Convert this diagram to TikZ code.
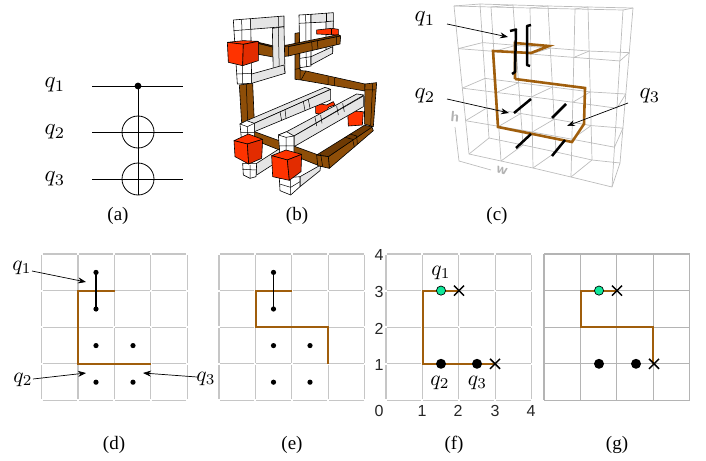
\documentclass[tikz,border=0pt]{standalone}
\usepackage{fontspec}
\setmainfont{Liberation Serif}
\newfontfamily\digitfont{Liberation Sans}
\usetikzlibrary{arrows.meta,calc}
\definecolor{pathbrown}{HTML}{A05E0C}
\definecolor{gridgray}{HTML}{C6C6C6}
\definecolor{gridgraydk}{HTML}{B4B4B4}
\definecolor{wiregray}{HTML}{BDBDBD}
\definecolor{qgreen}{HTML}{10E89A}
\definecolor{barbrown}{HTML}{8E4E08}
\definecolor{bartop}{HTML}{6E3A04}
\definecolor{redl}{HTML}{FF3300}
\definecolor{redr}{HTML}{E22C00}
\tikzset{
  qlab/.style={scale=2.3,inner sep=0pt},
  qsmall/.style={scale=2.15,inner sep=0pt},
  caption/.style={font=\fontsize{19}{21}\selectfont,inner sep=0pt},
  digit/.style={font=\digitfont\fontsize{16}{18}\selectfont,inner sep=0pt,text=black!85},
  axlab/.style={font=\sffamily\bfseries\fontsize{15}{17}\selectfont,inner sep=0pt,text=black!30},
  arr/.style={-{Stealth[length=8pt,width=6pt]},line width=.7pt},
  gridl/.style={draw=gridgray,line width=1.2pt},
  wire/.style={draw=wiregray,line width=.7pt},
  route/.style={draw=pathbrown,line width=1.9pt,line join=miter},
  route3d/.style={draw=pathbrown,line width=2.6pt,line join=miter},
  stub/.style={draw=black,line width=2.5pt},
  wf/.style={fill=white,draw=black,line width=.6pt,line join=round},
  lg/.style={fill=black!10,draw=black,line width=.6pt,line join=round},
  seg/.style={draw=black,line width=.5pt},
  bf/.style={fill=barbrown,draw=black,line width=.6pt,line join=round},
  bt/.style={fill=bartop,draw=black,line width=.6pt,line join=round},
  rl/.style={fill=redl,draw=black,line width=.6pt,line join=round},
  rr/.style={fill=redr,draw=black,line width=.6pt,line join=round},
}
\newcommand{\gapgrid}[1]{%
  \foreach \a in {0,1,2,3} \foreach \b in {0,1,2,3,4} {
    \draw[gridl] ({#1+\a*36.4+1},{254+\b*36.6}) -- ({#1+\a*36.4+35.4},{254+\b*36.6});
    \draw[gridl] ({#1+\b*36.4},{254+\a*36.6+1}) -- ({#1+\b*36.4},{254+\a*36.6+35.6});
  }}
\newcommand{\xmark}[2]{%
  \draw[line width=1.5pt] (#1-5,#2-5) -- (#1+5,#2+5);
  \draw[line width=1.5pt] (#1-5,#2+5) -- (#1+5,#2-5);}
\begin{document}
\begin{tikzpicture}[x=1pt,y=-1pt]
\useasboundingbox (0,0) rectangle (706,460);

% ---------- (a)
\node[qlab] (qa1) at (55,85) {$q_1$};
\node[qlab] (qa2) at (55,132) {$q_2$};
\node[qlab] (qa3) at (55,179) {$q_3$};
\coordinate (wa1l) at (92,86); \coordinate (wa1r) at (183,86);
\coordinate (wa2l) at (92,132); \coordinate (wa2r) at (183,132);
\coordinate (wa3l) at (92,179); \coordinate (wa3r) at (183,179);
\coordinate (ctrl) at (138,86); \coordinate (tgtend) at (138,195);
\draw[line width=.8pt] (wa1l)--(wa1r) (wa2l)--(wa2r) (wa3l)--(wa3r) (ctrl)--(tgtend);
\draw[line width=.8pt] (138,132) circle (16pt) (138,179) circle (16pt);
\fill (ctrl) circle (3.4pt);
\node[caption] (capa) at (118,216) {(a)};

% ---------- (b)
\begin{scope}[shift={(200,0)},x=1/3*1pt,y=-1/3*1pt]
 % back right loop
 \draw[wf] (297,45)--(333,43)--(333,198)--(300,203)--cycle;
 \draw[seg] (317,44)--(319,201) (297,70)--(333,68) (299,150)--(333,146) (300,175)--(333,170);
 \draw[lg] (333,43)--(400,38)--(400,65)--(333,68)--cycle;
 \draw[lg] (378,65)--(400,63)--(398,160)--(378,165)--cycle;
 \draw[lg] (333,170)--(398,140)--(398,160)--(333,195)--cycle;
 \draw[seg] (378,40)--(378,65);
 \draw[rl] (350,90)--(395,85)--(415,88)--(415,105)--(350,102)--cycle;
 \draw[seg] (393,86)--(393,105);
 % long back brown bar and stub
 \draw[bf] (285,100)--(298,98)--(298,205)--(303,212)--(318,213)--(495,252)--(495,273)--(303,240)--(285,238)--cycle;
 \draw[seg] (300,205)--(300,240) (285,208)--(300,205) (318,213)--(303,240) (384,230)--(384,254) (403,234)--(403,258);
 % top brown bar
 \draw[bf] (175,130)--(222,142)--(225,172)--(175,163)--cycle;
 \draw[bt] (175,127)--(222,138)--(262,135)--(415,104)--(422,108)--(265,140)--(222,142)--(175,130)--cycle;
 \draw[bf] (222,142)--(265,138)--(265,168)--(225,172)--cycle;
 \draw[bf] (265,140)--(422,108)--(420,132)--(265,168)--cycle;
 \draw[seg] (248,139)--(248,170) (335,126)--(337,153) (352,122)--(354,149) (410,110)--(410,134);
 % left vertical brown
 \draw[bf] (118,255)--(158,250)--(163,368)--(125,370)--cycle;
 \draw[seg] (139,253)--(143,368);
 % back left loop
 \draw[wf] (100,60)--(152,56)--(155,250)--(112,252)--cycle;
 \draw[seg] (125,58)--(128,250) (101,92)--(152,88) (110,222)--(154,220);
 \draw[lg] (152,56)--(252,48)--(252,80)--(152,88)--cycle;
 \draw[lg] (217,85)--(252,80)--(255,220)--(220,225)--cycle;
 \draw[seg] (235,50)--(235,80) (235,83)--(238,222);
 \draw[lg] (155,222)--(252,195)--(255,220)--(155,250)--cycle;
 % big red cube
 \draw[rl] (82,127)--(130,122)--(175,124)--(130,133)--cycle;
 \draw[rl] (82,127)--(130,133)--(128,197)--(85,187)--cycle;
 \draw[rr] (130,133)--(175,124)--(175,182)--(128,197)--cycle;
 % right brown column
 \draw[bf] (495,252)--(530,248)--(520,380)--(493,372)--cycle;
 \draw[seg] (518,250)--(512,376) (495,270)--(526,270);
 % lower white bars
 \draw[lg] (170,490)--(240,445)--(240,480)--(170,525)--cycle;
 \draw[wf] (128,490)--(170,490)--(168,530)--(150,535)--(130,525)--cycle;
 \draw[seg] (128,508)--(170,510) (150,495)--(150,535);
 \draw[lg] (300,530)--(362,495)--(360,512)--(300,560)--cycle;
 \draw[wf] (238,535)--(300,530)--(300,560)--(272,585)--(240,572)--cycle;
 \draw[seg] (239,552)--(272,562)--(300,545) (272,540)--(272,585);
 % front-left brown bar
 \draw[bf] (150,390)--(355,465)--(352,495)--(150,415)--cycle;
 % lower right brown bar
 \draw[bf] (385,470)--(515,380)--(520,392)--(388,505)--cycle;
 \draw[bt] (350,465)--(493,376)--(518,380)--(385,470)--cycle;
 \draw[seg] (435,412)--(458,418) (450,402)--(470,408) (458,418)--(463,442) (470,408)--(472,432);
 \draw[bf] (350,465)--(385,470)--(388,505)--(353,497)--cycle;
 \draw[seg] (362,462)--(368,500);
 % mid reds
 \draw[rl] (347,310)--(380,315)--(400,305)--(405,315)--(385,322)--(378,345)--(347,340)--cycle;
 \draw[rl] (443,332)--(490,335)--(487,375)--(445,378)--cycle;
 % first long white bar
 \draw[lg] (120,372)--(140,362)--(375,262)--(392,268)--(163,370)--cycle;
 \draw[lg] (163,370)--(392,268)--(392,300)--(163,395)--cycle;
 \draw[seg] (240,335)--(245,362) (255,328)--(258,355) (310,305)--(315,332) (325,298)--(330,325);
 \draw[wf] (120,372)--(140,362)--(163,370)--(163,425)--(125,425)--cycle;
 \draw[seg] (120,372)--(142,380)--(163,370) (142,380)--(144,425) (122,398)--(163,398);
 % red cube left bottom
 \draw[rl] (102,422)--(145,402)--(188,418)--(142,432)--cycle;
 \draw[rl] (102,422)--(142,432)--(146,492)--(105,470)--cycle;
 \draw[rr] (142,432)--(188,418)--(185,475)--(146,492)--cycle;
 % second long white bar
 \draw[lg] (235,405)--(260,395)--(470,282)--(492,285)--(282,408)--cycle;
 \draw[lg] (282,408)--(490,288)--(490,320)--(282,440)--cycle;
 \draw[seg] (345,352)--(350,378) (362,345)--(366,370) (410,318)--(415,345) (428,310)--(433,335);
 \draw[wf] (235,405)--(260,395)--(282,408)--(282,465)--(258,472)--(240,465)--cycle;
 \draw[seg] (235,405)--(258,412)--(282,408) (258,412)--(258,472) (237,438)--(282,438);
 % red cube right bottom
 \draw[rl] (215,467)--(258,450)--(305,463)--(262,480)--cycle;
 \draw[rl] (215,467)--(262,480)--(268,541)--(218,530)--cycle;
 \draw[rr] (262,480)--(305,463)--(303,515)--(268,541)--cycle;
\end{scope}
\node[caption] (capb) at (297,216) {(b)};

% ---------- (c)
\foreach \i/\tx/\ty/\bx/\by in {0/454/6/469/154,1/491/7/501/161,2/530/8/533/168,3/575/9/571/177,4/623/10/612/187}{
  \coordinate (FT\i) at (\tx,\ty); \coordinate (FB\i) at (\bx,\by);}
\foreach \i/\tx/\ty/\bx/\by in {0/480/4/489/138,1/513/5/523/145,2/548/6/556/152,3/588/7/592/160,4/633/8/620/163}{
  \coordinate (BT\i) at (\tx,\ty); \coordinate (BB\i) at (\bx,\by);}
\foreach \i in {0,1,2,3,4}{
  \draw[wire] (FT\i)--(FB\i) (BT\i)--(BB\i);
  \foreach \j/\f in {0/0,1/.288,2/.555,3/.775,4/1}{
    \coordinate (F\i-\j) at ($(FT\i)!\f!(FB\i)$);
    \coordinate (B\i-\j) at ($(BT\i)!\f!(BB\i)$);
    \draw[wire] (F\i-\j)--(B\i-\j);
  }}
\foreach \j in {0,1,2,3,4}{
  \draw[wire] (F0-\j)--(F1-\j)--(F2-\j)--(F3-\j)--(F4-\j);
  \draw[wire] (B0-\j)--(B1-\j)--(B2-\j)--(B3-\j)--(B4-\j);}
\coordinate (ax0) at (459,161); \coordinate (axh) at (455,127); \coordinate (axw) at (491,170);
\draw[wire] (axh)--(ax0)--(axw);
\node[axlab,rotate=-5] (hlab) at (455,117) {h};
\node[axlab,rotate=-15] (wlab) at (502,171) {w};
\draw[route3d] (515,79)--(515,43)--(549,46)--(531,53)--(493,51)--(498,127)--(572,142)--(584,124)--(585,88)--(515,79);
\draw[stub,line join=round] (510,31)--(516,29.5)--(515,72)--(512,74);
\draw[stub,line join=round] (531,25)--(527,26)--(527,65)--(530,66);
\coordinate (s1a) at (514,113); \coordinate (s1b) at (531,99);
\coordinate (s2a) at (552,118); \coordinate (s2b) at (566,104);
\coordinate (s3a) at (516,148); \coordinate (s3b) at (531,134);
\coordinate (s4a) at (552,156); \coordinate (s4b) at (565,140);
\draw[stub] (s1a)--(s1b) (s2a)--(s2b) (s3a)--(s3b) (s4a)--(s4b);
\node[qlab] (qc1) at (425,19) {$q_1$};
\node[qlab] (qc2) at (425,96) {$q_2$};
\node[qlab] (qc3) at (650,96) {$q_3$};
\coordinate (tc1) at (447,24); \coordinate (hc1) at (508,37);
\coordinate (tc2) at (447,99); \coordinate (hc2) at (509,113);
\coordinate (tc3) at (628,103); \coordinate (hc3) at (567,126);
\draw[arr] (tc1)--(hc1); \draw[arr] (tc2)--(hc2); \draw[arr] (tc3)--(hc3);
\node[caption] (capc) at (497,216) {(c)};

% ---------- (d)
\gapgrid{41.5}
\foreach \px in {96,133} \foreach \py in {345.6,382.2} \fill (\px,\py) circle (2.6pt);
\fill (96,272.4) circle (2.6pt) (96,309) circle (2.6pt);
\draw[route] (115,290.6)--(78,290.6)--(78,363.8)--(151,363.8);
\draw[line width=1.3pt] (96,272.4)--(96,309);
\node[qsmall] (qd1) at (22,268) {$q_1$};
\node[qsmall] (qd2) at (23,380) {$q_2$};
\node[qsmall] (qd3) at (206,379) {$q_3$};
\coordinate (td1) at (32,271); \coordinate (hd1) at (86,282);
\coordinate (td2) at (33,379); \coordinate (hd2) at (86,373);
\coordinate (td3) at (197,377); \coordinate (hd3) at (143,373);
\draw[arr] (td1)--(hd1); \draw[arr] (td2)--(hd2); \draw[arr] (td3)--(hd3);
\node[caption] (capd) at (114,445) {(d)};

% ---------- (e)
\gapgrid{219}
\foreach \px in {273.5,310} \foreach \py in {345.6,382.2} \fill (\px,\py) circle (2.6pt);
\fill (273.5,272.4) circle (2.6pt) (273.5,309) circle (2.6pt);
\draw[route] (292,290.6)--(256,290.6)--(256,327.2)--(328.2,327.2)--(328.2,363.8);
\draw[line width=1.3pt] (273.5,272.4)--(273.5,309);
\node[caption] (cape) at (292,445) {(e)};

% ---------- (f)
\gapgrid{386}
\draw[route] (459,290.6)--(423,290.6)--(423,363.8)--(495,363.8);
\draw[fill=qgreen,line width=.7pt] (441,290.6) circle (4.6pt);
\fill (441,363.8) circle (5pt) (477,363.8) circle (5pt);
\xmark{459}{290.6}
\xmark{495}{363.8}
\node[qsmall] (qf1) at (441,273) {$q_1$};
\node[qsmall] (qf2) at (440,383) {$q_2$};
\node[qsmall] (qf3) at (477.5,383) {$q_3$};
\foreach \t/\px in {0/379,1/422,2/458,3/495,4/531} \node[digit] (xt\t) at (\px,411) {\t};
\foreach \t/\py in {1/365,2/329,3/292,4/255} \node[digit] (yt\t) at (379,\py) {\t};
\node[caption] (capf) at (454,445) {(f)};

% ---------- (g)
\foreach \k in {0,1,2,3,4}{
  \draw[draw=gridgraydk,line width=1.2pt] ({544+\k*36.4},254)--({544+\k*36.4},400.4);
  \draw[draw=gridgraydk,line width=1.2pt] (544,{254+\k*36.6})--(689.6,{254+\k*36.6});}
\draw[route] (617,290.6)--(581,290.6)--(581,327.2)--(653.2,327.2)--(653.2,363.8);
\draw[fill=qgreen,line width=.7pt] (599,290.6) circle (4.6pt);
\fill (599,363.8) circle (5pt) (636,363.8) circle (5pt);
\xmark{617}{290.6}
\xmark{654}{363.8}
\node[caption] (capg) at (617,445) {(g)};
\end{tikzpicture}
\end{document}
